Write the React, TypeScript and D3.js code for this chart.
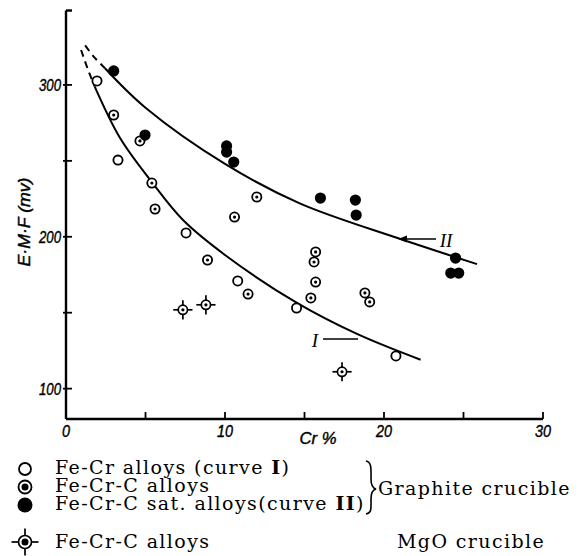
import React from "react";
import * as d3 from "d3";

// Fe-Cr alloys, graphite crucible (open circles, curve I)
const feCr: [number, number][] = [
  [1.95, 302.6], [3.27, 250.5], [7.55, 202.5], [10.8, 170.9], [14.5, 153.1], [20.75, 121.5],
];
// Fe-Cr-C alloys, graphite crucible (dotted circles)
const feCrC: [number, number][] = [
  [3.0, 280.2], [4.65, 263.1], [5.4, 235.4], [5.6, 218.3], [10.6, 213.0], [12.0, 226.2],
  [8.9, 184.7], [11.45, 162.3], [15.7, 190.0], [15.6, 183.4], [15.7, 170.2], [15.4, 159.7],
  [18.8, 163.0], [19.1, 157.1],
];
// Fe-Cr-C saturated alloys (filled, curve II)
const feCrCSat: [number, number][] = [
  [3.0, 309.2], [4.97, 267.0], [10.1, 259.8], [10.1, 255.8], [10.55, 249.2], [16.0, 225.5],
  [18.2, 224.2], [18.25, 214.3], [24.5, 186.0], [24.2, 176.1], [24.7, 176.1],
];
// Fe-Cr-C alloys, MgO crucible
const mgo: [number, number][] = [[7.35, 151.9], [8.8, 155.2], [17.36, 111.1]];

// fitted curves
const curveIDash: [number, number][] = [[0.95, 323], [1.35, 311], [1.8, 299]];
const curveI: [number, number][] = [
  [1.8, 299], [3.4, 265], [5.4, 236], [7.36, 211], [10, 188], [14.5, 156.6], [18.3, 136], [22.3, 119],
];
const curveIIDash: [number, number][] = [[1.2, 326], [1.8, 318], [2.45, 311]];
const curveII: [number, number][] = [
  [2.45, 311], [5, 285], [10, 248], [14.7, 222], [20.9, 199], [25.85, 182],
];

const xTicks = [0, 5, 10, 15, 20, 25, 30];
const xLabels = [0, 10, 20, 30];
const yTicks = [100, 150, 200, 250, 300];
const yLabels = [100, 200, 300];

const legendRows = [
  { kind: "open", text: "Fe-Cr alloys (curve ", roman: "I", tail: ")" },
  { kind: "dot", text: "Fe-Cr-C alloys", roman: "", tail: "" },
  { kind: "fill", text: "Fe-Cr-C sat. alloys(curve ", roman: "II", tail: ")" },
];

const W = 588;
const H = 556;

const x = d3.scaleLinear().domain([0, 30]).range([66, 543]);
const y = d3.scaleLinear().domain([80, 350]).range([419, 9]);

const line = d3
  .line<[number, number]>()
  .x((d) => x(d[0]))
  .y((d) => y(d[1]))
  .curve(d3.curveCatmullRom.alpha(0.5));

const Marker = ({ kind, cx, cy, big }: { kind: string; cx: number; cy: number; big?: boolean }) => {
  const r = big ? 6 : 4.6;
  if (kind === "open")
    return <circle cx={cx} cy={cy} r={r} fill="#fff" stroke="#000" strokeWidth={1.8} />;
  if (kind === "fill") return <circle cx={cx} cy={cy} r={big ? 7.5 : 5.6} fill="#000" />;
  if (kind === "dot")
    return (
      <g>
        <circle cx={cx} cy={cy} r={big ? 6.5 : r} fill="#fff" stroke="#000" strokeWidth={1.8} />
        <circle cx={cx} cy={cy} r={big ? 3.5 : 1.6} fill="#000" />
      </g>
    );
  // MgO: dotted circle with cross hairs
  const rr = big ? 6.5 : r;
  const len = big ? 7 : 5;
  return (
    <g stroke="#000" strokeWidth={1.7}>
      <circle cx={cx} cy={cy} r={rr} fill="#fff" />
      <circle cx={cx} cy={cy} r={big ? 3.5 : 1.6} fill="#000" stroke="none" />
      <line x1={cx - rr - len} x2={cx - rr} y1={cy} y2={cy} />
      <line x1={cx + rr} x2={cx + rr + len} y1={cy} y2={cy} />
      <line x1={cx} x2={cx} y1={cy - rr - len} y2={cy - rr} />
      <line x1={cx} x2={cx} y1={cy + rr} y2={cy + rr + len} />
    </g>
  );
};

export default function App() {
  const tickFont = {
    fontFamily: "Liberation Sans",
    fontStyle: "italic",
    fontSize: 16,
    stroke: "#000",
    strokeWidth: 0.4,
    lengthAdjust: "spacingAndGlyphs",
  } as const;
  const legFont = { fontFamily: "DejaVu Serif", fontSize: 19, letterSpacing: 1.4 } as const;
  const legY = [469, 487, 505];
  return (
    <svg width={W} height={H} style={{ position: "absolute", left: 0, top: 0, background: "#fff" }}>
      {/* axes */}
      <g stroke="#000" strokeWidth={2.4} fill="none">
        <line x1={x(0)} x2={x(0)} y1={y(80)} y2={y(349)} />
        <line x1={x(0)} x2={x(0) + 6} y1={y(349)} y2={y(349)} />
        <line x1={x(0)} x2={x(30)} y1={y(80)} y2={y(80)} />
        {xTicks.slice(1).map((t) => (
          <line key={t} x1={x(t)} x2={x(t)} y1={y(80)} y2={y(80) - 7} strokeWidth={1.8} />
        ))}
        {yTicks.map((t) => (
          <line key={t} x1={x(0) - 3} x2={x(0) + 6} y1={y(t)} y2={y(t)} strokeWidth={1.8} />
        ))}
      </g>
      {xLabels.map((t) => (
        <text key={t} x={x(t)} y={437} textAnchor="middle" textLength={String(t).length * 8} {...tickFont}>
          {t}
        </text>
      ))}
      {yLabels.map((t) => (
        <text key={t} x={61} y={y(t) + 6} textAnchor="end" textLength={22} {...tickFont}>
          {t}
        </text>
      ))}
      <text x={318} y={444} textAnchor="middle" textLength={37} {...tickFont}>
        Cr %
      </text>
      <text transform="translate(30,222) rotate(-90)" textAnchor="middle" textLength={89} {...tickFont}>
        E·M·F (mv)
      </text>

      {/* curves */}
      <g fill="none" stroke="#000" strokeWidth={2}>
        <path d={line(curveI) || ""} />
        <path d={line(curveII) || ""} />
        <path d={line(curveIDash) || ""} strokeDasharray="7,5" />
        <path d={line(curveIIDash) || ""} strokeDasharray="7,5" />
      </g>

      {/* curve labels */}
      <text x={315} y={347} textAnchor="middle" fontFamily="Liberation Serif" fontStyle="italic" fontSize={19}>
        I
      </text>
      <line x1={323} x2={358} y1={339} y2={339} stroke="#000" strokeWidth={1.6} />
      <text x={446} y={247} textAnchor="middle" fontFamily="Liberation Serif" fontStyle="italic" fontSize={19}>
        II
      </text>
      <line x1={436} x2={403} y1={239} y2={239} stroke="#000" strokeWidth={1.6} />
      <path d="M398,239 L407,235.5 L407,242.5 Z" fill="#000" />

      {/* points */}
      {feCr.map((d, i) => (
        <Marker key={"o" + i} kind="open" cx={x(d[0])} cy={y(d[1])} />
      ))}
      {feCrC.map((d, i) => (
        <Marker key={"d" + i} kind="dot" cx={x(d[0])} cy={y(d[1])} />
      ))}
      {feCrCSat.map((d, i) => (
        <Marker key={"f" + i} kind="fill" cx={x(d[0])} cy={y(d[1])} />
      ))}
      {mgo.map((d, i) => (
        <Marker key={"m" + i} kind="mgo" cx={x(d[0])} cy={y(d[1])} />
      ))}

      {/* legend */}
      {legendRows.map((r, i) => (
        <g key={i}>
          <Marker kind={r.kind} cx={25} cy={legY[i]} big />
          <text x={55} y={legY[i] + 5} {...legFont}>
            {r.text}
            {r.roman && <tspan fontWeight="bold">{r.roman}</tspan>}
            {r.tail}
          </text>
        </g>
      ))}
      <path
        d="M366,461 C372,462 371,470 371,479 C371,485 372,488 376,489 C372,490 371,493 371,499 C371,508 372,513 366,514"
        fill="none"
        stroke="#000"
        strokeWidth={1.6}
      />
      <text x={378} y={495} {...legFont}>
        Graphite crucible
      </text>
      <Marker kind="mgo" cx={25} cy={542} big />
      <text x={55} y={548} {...legFont}>
        Fe-Cr-C alloys
      </text>
      <text x={397} y={548} {...legFont}>
        MgO crucible
      </text>
    </svg>
  );
}
